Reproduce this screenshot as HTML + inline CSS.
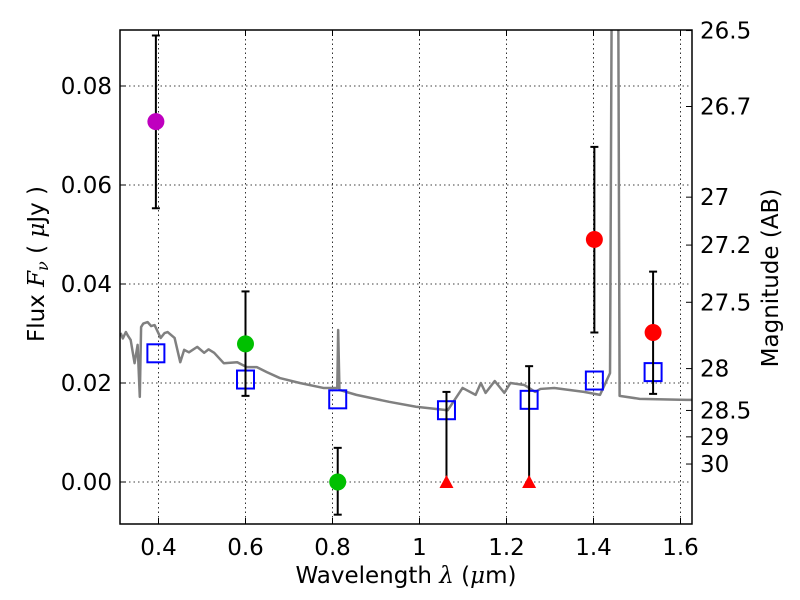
<!DOCTYPE html>
<html><head><meta charset="utf-8"><style>
body{margin:0;background:#fff;}
svg{display:block;font-family:"DejaVu Sans","Liberation Sans",sans-serif;}
</style></head><body>
<svg id="chart" width="800" height="600" viewBox="0 0 800 600" xmlns="http://www.w3.org/2000/svg">
<rect width="800" height="600" fill="#fff"/>
<g id="grid"></g>
<g id="plot"></g>
<g id="axes"></g>
<text x="406" y="583" font-size="23" text-anchor="middle">Wavelength  <tspan font-family="DejaVu Serif" font-style="italic">λ</tspan> (<tspan font-family="DejaVu Serif" font-style="italic">μ</tspan>m)</text>
<text transform="translate(44,264) rotate(-90)" font-size="23" text-anchor="middle">Flux  <tspan font-family="DejaVu Serif" font-style="italic">F<tspan font-size="16" dy="4">ν</tspan></tspan><tspan dy="-4">  ( </tspan><tspan font-family="DejaVu Serif" font-style="italic">μ</tspan>Jy )</text>
<text transform="translate(778,278) rotate(-90)" font-size="23" text-anchor="middle">Magnitude (AB)</text>
</svg>
<script>
const xTicks=[0.4,0.6,0.8,1.0,1.2,1.4,1.6];
const xTickLabels=["0.4","0.6","0.8","1","1.2","1.4","1.6"];
const yTicks=[0,0.02,0.04,0.06,0.08];
const yTickLabels=["0.00","0.02","0.04","0.06","0.08"];
const magTicks=[26.5,26.7,27,27.2,27.5,28,28.5,29,30];
const magTickLabels=["26.5","26.7","27","27.2","27.5","28","28.5","29","30"];
const specWave=[0.313,0.318,0.325,0.330,0.336,0.345,0.352,0.357,0.360,0.365,0.375,0.383,0.391,0.405,0.414,0.421,0.437,0.450,0.459,0.470,0.489,0.505,0.515,0.528,0.550,0.581,0.603,0.626,0.649,0.679,0.725,0.779,0.811,0.813,0.816,0.855,0.930,0.992,1.065,1.099,1.129,1.141,1.152,1.173,1.195,1.209,1.241,1.266,1.278,1.310,1.378,1.415,1.438,1.447,1.453,1.460,1.506,1.614,1.630];
const specFlux=[0.0301,0.0290,0.0303,0.0295,0.0287,0.0240,0.0277,0.0172,0.0313,0.0320,0.0323,0.0315,0.0317,0.0291,0.0301,0.0303,0.0291,0.0242,0.0267,0.0262,0.0273,0.0261,0.0268,0.0261,0.0240,0.0242,0.0232,0.0232,0.0222,0.0210,0.0200,0.0190,0.0190,0.0307,0.0186,0.0176,0.0162,0.0152,0.0145,0.0190,0.0176,0.0200,0.0180,0.0204,0.0180,0.0200,0.0196,0.0182,0.0188,0.0190,0.0182,0.0176,0.0220,0.2,0.2,0.0174,0.0168,0.0166,0.0166];
const modelWave=[0.394,0.600,0.812,1.062,1.252,1.402,1.537];
const modelFlux=[0.0260,0.0207,0.0167,0.0145,0.0166,0.0205,0.0222];
const obsWave=[0.394,0.600,0.812,1.402,1.537];
const obsFlux=[0.0728,0.0279,0.0000,0.0490,0.0302];
const obsLow=[0.0553,0.0174,-0.0066,0.0302,0.0178];
const obsHigh=[0.0902,0.0385,0.0069,0.0677,0.0425];
const obsColor=["#bf00bf","#00c000","#00c000","#ff0000","#ff0000"];
const limWave=[1.062,1.252];
const limFlux=[0,0];
const limHigh=[0.0182,0.0234];

const L=120,R=692,T=30,B=524;
const X=v=>158.5+(v-0.4)*435;
const Y=v=>482-v*4950;
const NS="http://www.w3.org/2000/svg";
function mk(parent,tag,attrs){const e=document.createElementNS(NS,tag);for(const k in attrs)e.setAttribute(k,attrs[k]);parent.appendChild(e);return e;}
const grid=document.getElementById('grid'),plot=document.getElementById('plot'),axes=document.getElementById('axes');
const defs=mk(document.getElementById('chart'),'defs',{});
const cp=mk(defs,'clipPath',{id:'clip'});mk(cp,'rect',{x:L,y:T,width:R-L,height:B-T});
plot.setAttribute('clip-path','url(#clip)');
xTicks.forEach((v,i)=>{
 const l=mk(grid,'line',{x1:X(v),x2:X(v),y1:T,y2:B,stroke:'#000','stroke-width':0.8,'stroke-dasharray':'1.5,3'});
 
 const t1=mk(axes,'line',{x1:X(v),x2:X(v),y1:B,y2:B-6,stroke:'#000'});
 
 mk(axes,'line',{x1:X(v),x2:X(v),y1:T,y2:T+6,stroke:'#000'});
 const t=mk(axes,'text',{x:X(v),y:555,'font-size':23,'text-anchor':'middle'});t.textContent=xTickLabels[i];
 
});
yTicks.forEach((v,i)=>{
 const l=mk(grid,'line',{x1:L,x2:R,y1:Y(v),y2:Y(v),stroke:'#000','stroke-width':0.8,'stroke-dasharray':'1.5,3'});
 
 mk(axes,'line',{x1:L,x2:L+6,y1:Y(v),y2:Y(v),stroke:'#000'});
 const t=mk(axes,'text',{x:112,y:Y(v)+8,'font-size':23,'text-anchor':'end'});t.textContent=yTickLabels[i];
 
});
magTicks.forEach((m,i)=>{
 const f=Math.pow(10,(23.9-m)/2.5);
 const y=Y(f);
 mk(axes,'line',{x1:R,x2:R-6,y1:y,y2:y,stroke:'#000'});
 const t=mk(axes,'text',{x:700,y:y+8,'font-size':23});t.textContent=magTickLabels[i];
 
});
const sp=mk(plot,'polyline',{points:specWave.map((w,i)=>X(w)+','+Y(specFlux[i])).join(' '),fill:'none',stroke:'#808080','stroke-width':2.5,'stroke-linejoin':'round'});

modelWave.forEach((w,i)=>{
 const r=mk(plot,'rect',{x:X(w)-8.5,y:Y(modelFlux[i])-9,width:17,height:18,fill:'none',stroke:'#0000ff','stroke-width':2});
 
});
obsWave.forEach((w,i)=>{
 const g=mk(plot,'g',{});
 
 mk(g,'line',{x1:X(w),x2:X(w),y1:Y(obsLow[i]),y2:Y(obsHigh[i]),stroke:'#000','stroke-width':2});
 mk(g,'line',{x1:X(w)-4,x2:X(w)+4,y1:Y(obsLow[i]),y2:Y(obsLow[i]),stroke:'#000','stroke-width':2});
 mk(g,'line',{x1:X(w)-4,x2:X(w)+4,y1:Y(obsHigh[i]),y2:Y(obsHigh[i]),stroke:'#000','stroke-width':2});
 mk(g,'circle',{cx:X(w),cy:Y(obsFlux[i]),r:8.5,fill:obsColor[i]});
});
limWave.forEach((w,i)=>{
 const g=mk(plot,'g',{});
 
 mk(g,'line',{x1:X(w),x2:X(w),y1:Y(limFlux[i]),y2:Y(limHigh[i]),stroke:'#000','stroke-width':2});
 mk(g,'line',{x1:X(w)-4,x2:X(w)+4,y1:Y(limHigh[i]),y2:Y(limHigh[i]),stroke:'#000','stroke-width':2});
 const x=X(w),y=Y(limFlux[i]);
 mk(g,'polygon',{points:`${x-7},${y+6} ${x+7},${y+6} ${x},${y-7}`,fill:'#ff0000'});
});
const fr=mk(axes,'rect',{x:L,y:T,width:R-L,height:B-T,fill:'none',stroke:'#000','stroke-width':1.5});

</script>
</body></html>
